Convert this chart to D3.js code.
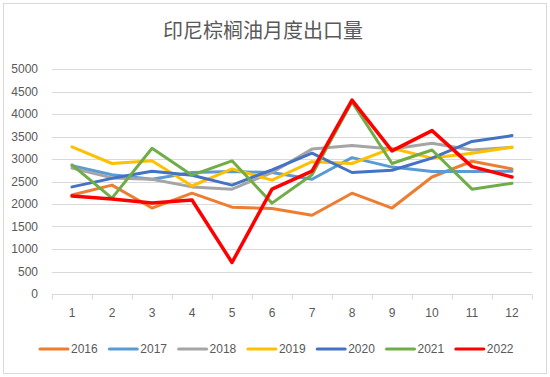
<!DOCTYPE html>
<html>
<head>
<meta charset="utf-8">
<script src="https://cdn.jsdelivr.net/npm/d3@7"></script>
<style>
  body { margin: 0; background: #fff; }
  svg text { font-family: "Liberation Sans", "Noto Sans CJK SC", sans-serif; fill: #595959; }
</style>
</head>
<body>
<svg id="chart" width="550" height="377"></svg>
<script>
// 印尼棕榈油月度出口量
const months = [1, 2, 3, 4, 5, 6, 7, 8, 9, 10, 11, 12];
const yTicks = [0, 500, 1000, 1500, 2000, 2500, 3000, 3500, 4000, 4500, 5000];

const v2016 = [2200, 2420, 1910, 2240, 1930, 1900, 1750, 2240, 1910, 2600, 2950, 2780];
const v2017 = [2850, 2650, 2550, 2700, 2720, 2700, 2550, 3030, 2820, 2720, 2720, 2730];
const v2018 = [2800, 2580, 2550, 2380, 2330, 2700, 3220, 3300, 3220, 3350, 3200, 3260];
const v2019 = [3270, 2900, 2960, 2400, 2780, 2530, 2940, 2900, 3240, 3020, 3130, 3260];
const v2020 = [2380, 2570, 2730, 2640, 2420, 2760, 3130, 2700, 2750, 3020, 3390, 3520];
const v2021 = [2870, 2130, 3240, 2640, 2960, 2020, 2650, 4270, 2900, 3200, 2330, 2460];
const v2022 = [2180, 2110, 2020, 2090, 700, 2330, 2730, 4310, 3180, 3630, 2830, 2600];

const seriesNames = ["2016", "2017", "2018", "2019", "2020", "2021", "2022"];
const seriesValues = [v2016, v2017, v2018, v2019, v2020, v2021, v2022];
const seriesColors = ["#ED7D31", "#5B9BD5", "#A5A5A5", "#FFC000", "#4472C4", "#70AD47", "#FF0000"];

const svg = d3.select("#chart");
const W = 550, H = 377;
const margin = { left: 52, right: 18, top: 69, bottom: 83 };

// 外框
svg.append("rect")
    .attr("x", 3.5).attr("y", 3.5)
    .attr("width", W - 7).attr("height", H - 7)
    .attr("fill", "#fff")
    .attr("stroke", "#d9d9d9");

svg.append("text")
    .attr("x", 263).attr("y", 38)
    .attr("text-anchor", "middle")
    .style("font-size", "20px")
    .text("印尼棕榈油月度出口量");

const x = d3.scaleBand()
    .domain(months)
    .range([margin.left, W - margin.right]);

const y = d3.scaleLinear()
    .domain([0, 5000])
    .range([H - margin.bottom, margin.top]);

// 网格线
svg.append("g")
    .selectAll("line")
    .data(yTicks.filter(d => d > 0))
    .join("line")
    .attr("x1", margin.left).attr("x2", W - margin.right)
    .attr("y1", d => Math.round(y(d)) + 0.5).attr("y2", d => Math.round(y(d)) + 0.5)
    .attr("stroke", "#d9d9d9");

// y轴
const yAxis = svg.append("g")
    .attr("transform", `translate(${margin.left},0)`)
    .call(d3.axisLeft(y).tickValues(yTicks).tickFormat(d3.format("d")).tickSize(0).tickPadding(14));
yAxis.select(".domain").remove();
yAxis.selectAll("text").style("font-size", "12px").attr("fill", "#595959");

// x轴
const xAxisY = Math.round(y(0)) + 0.5;
const xg = svg.append("g");
xg.append("line")
    .attr("x1", margin.left).attr("x2", W - margin.right)
    .attr("y1", xAxisY).attr("y2", xAxisY)
    .attr("stroke", "#d9d9d9");
xg.selectAll("line.tick")
    .data(months.concat([13]))
    .join("line")
    .attr("class", "tick")
    .attr("x1", d => Math.round(margin.left + (d - 1) * x.step()) + 0.5)
    .attr("x2", d => Math.round(margin.left + (d - 1) * x.step()) + 0.5)
    .attr("y1", xAxisY).attr("y2", xAxisY + 5)
    .attr("stroke", "#d9d9d9");
xg.selectAll("text")
    .data(months)
    .join("text")
    .attr("x", d => x(d) + x.bandwidth() / 2)
    .attr("y", xAxisY + 22)
    .attr("text-anchor", "middle")
    .style("font-size", "12px")
    .text(d => d);

// 折线
const line = d3.line()
    .x((d, i) => x(months[i]) + x.bandwidth() / 2)
    .y(d => y(d));

svg.append("g")
    .selectAll("path")
    .data(seriesValues)
    .join("path")
    .attr("d", d => line(d))
    .attr("fill", "none")
    .attr("stroke", (d, i) => seriesColors[i])
    .attr("stroke-width", (d, i) => i === 6 ? 3.5 : 3)
    .attr("stroke-linejoin", "round")
    .attr("stroke-linecap", "round");

// 图例
const legend = svg.append("g")
    .selectAll("g")
    .data(seriesNames)
    .join("g")
    .attr("transform", (d, i) => `translate(${40 + i * 69.3},349)`);
legend.append("line")
    .attr("x1", 0).attr("x2", 28)
    .attr("stroke", (d, i) => seriesColors[i])
    .attr("stroke-width", 3)
    .attr("stroke-linecap", "round");
legend.append("text")
    .attr("x", 31).attr("y", 4)
    .style("font-size", "12px")
    .text(d => d);
</script>
</body>
</html>
